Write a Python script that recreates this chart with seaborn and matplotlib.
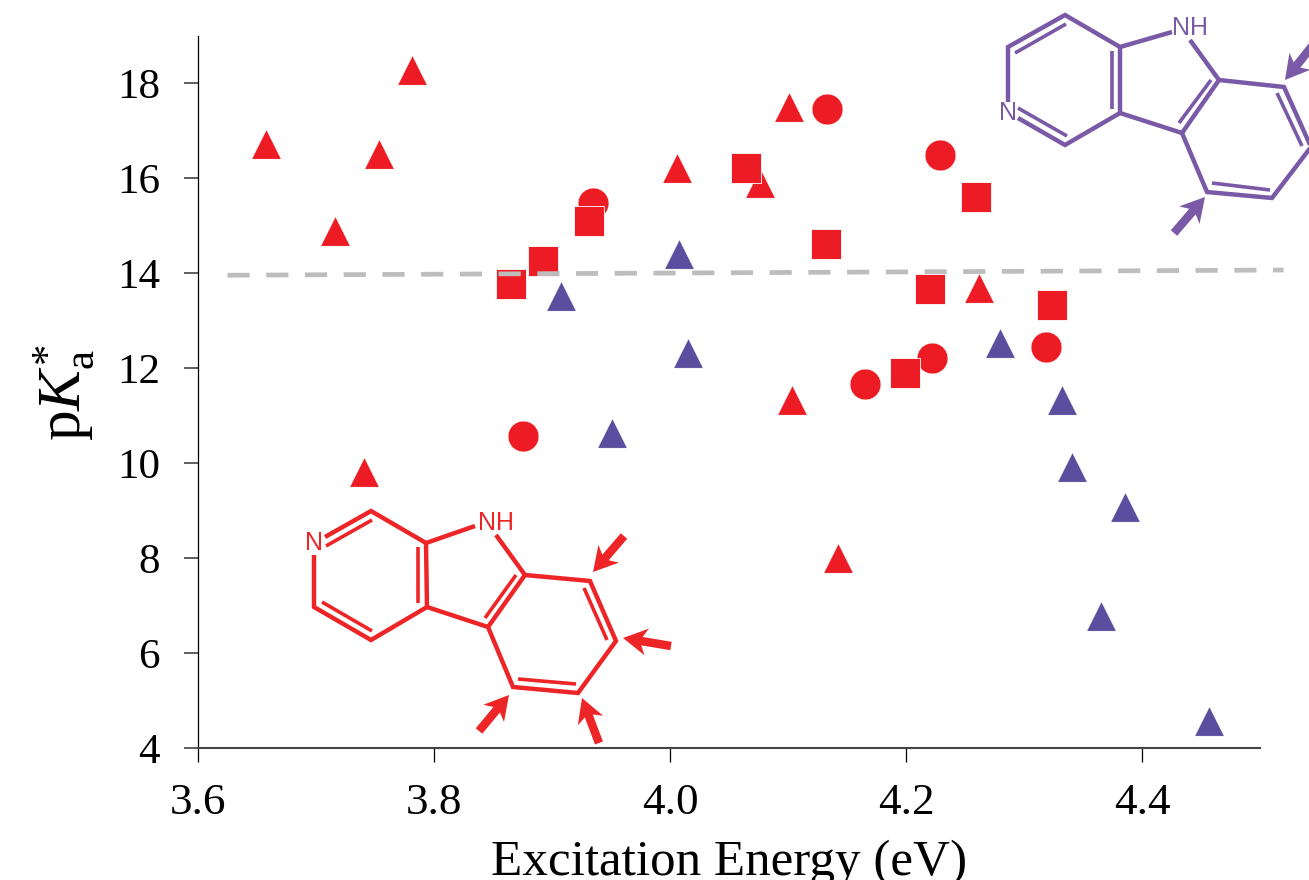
import pandas as pd
import matplotlib
matplotlib.use("Agg")
import matplotlib.pyplot as plt
import matplotlib.patches as patches
import seaborn as sns

red_tri_x = [3.658, 3.781, 3.753, 3.716, 3.741, 4.006, 4.101, 4.076, 4.262, 4.103, 4.142]
red_tri_y = [16.73, 18.29, 16.52, 14.90, 9.82, 16.21, 17.51, 15.91, 13.70, 11.34, 8.00]
blue_tri_x = [3.908, 4.008, 4.015, 3.951, 4.280, 4.332, 4.341, 4.386, 4.365, 4.457]
blue_tri_y = [13.53, 14.41, 12.33, 10.64, 12.54, 11.34, 9.92, 9.08, 6.78, 4.57]
circle_x = [3.935, 4.133, 4.229, 3.875, 4.165, 4.222, 4.319]
circle_y = [15.49, 17.47, 16.50, 10.58, 11.67, 12.22, 12.45]
square_x = [3.865, 3.892, 3.931, 4.064, 4.132, 4.259, 4.220, 4.199, 4.324]
square_y = [13.78, 14.25, 15.11, 16.21, 14.61, 15.60, 13.66, 11.89, 13.34]
water_x = [3.625, 4.52]
water_y = [13.96, 14.07]
x_ticks = [3.6, 3.8, 4.0, 4.2, 4.4]
y_ticks = [4, 6, 8, 10, 12, 14, 16, 18]

RED = "#ed1c24"
BLUE = "#5b4e9e"
PURPLE = "#7a5aa6"

sns.set_style("white")
plt.rcParams["font.family"] = ["Liberation Serif", "DejaVu Serif"]
plt.rcParams["mathtext.fontset"] = "custom"
plt.rcParams["mathtext.rm"] = "Liberation Serif"
plt.rcParams["mathtext.it"] = "Liberation Serif:italic"


def draw_group(ax, xs, ys, marker, color, size, z, edge):
    df = pd.DataFrame({"x": xs, "y": ys})
    sns.scatterplot(data=df, x="x", y="y", marker=marker, color=color, s=size,
                    edgecolor="white", linewidth=edge, zorder=z, ax=ax, clip_on=False)


fig = plt.figure(figsize=(13.09, 8.8), dpi=100)
ax = fig.add_axes([198 / 1309, 1 - 748 / 880, 1062 / 1309, 712 / 880])

draw_group(ax, red_tri_x, red_tri_y, "^", RED, 440, 3, 0.2)
draw_group(ax, blue_tri_x, blue_tri_y, "^", BLUE, 440, 3, 0.2)
draw_group(ax, circle_x, circle_y, "o", RED, 490, 3, 0.3)
draw_group(ax, square_x, square_y, "s", RED, 470, 4, 0.6)
ax.plot(water_x, water_y, color="#bdbdbd", lw=3.4, dashes=(4.7, 3.5), clip_on=False, zorder=5)

ax.set_xlim(3.6, 4.5)
ax.set_ylim(4, 19)
ax.set_xticks(x_ticks)
ax.set_xticklabels(["%.1f" % t for t in x_ticks])
ax.set_yticks(y_ticks)
ax.tick_params(axis="x", bottom=True, length=10, width=0.9, color="black", labelsize=32.5, pad=15.5, labelcolor="black")
ax.tick_params(axis="y", left=True, length=10, width=1.1, color="#333333", labelsize=31, pad=17.5, labelcolor="black")
ax.set_xlabel("Excitation Energy (eV)", fontsize=36.8, color="black", va="baseline")
ax.xaxis.set_label_coords(729 / 1309, 5 / 880, transform=fig.transFigure)
ax.set_ylabel(r"p$\mathit{K}_{\mathrm{a}}^{*}$", fontsize=44, color="black")
ax.yaxis.set_label_coords(96 / 1309, 1 - 393 / 880, transform=fig.transFigure)
sns.despine(ax=ax)
ax.spines["left"].set_linewidth(0.9)
ax.spines["left"].set_color("black")
ax.spines["bottom"].set_linewidth(1.5)
ax.spines["bottom"].set_color("#444444")

# molecules, drawn on a pixel overlay
ov = fig.add_axes([0, 0, 1, 1], zorder=2)
ov.set_xlim(0, 1309)
ov.set_ylim(880, 0)
ov.axis("off")
ov.patch.set_alpha(0)

red_outer = [[(325, 537), (371, 511), (426, 543), (427, 607), (371, 640), (314, 607), (314, 555)],
             [(426, 543), (475, 526)],
             [(496, 535), (525, 575), (590, 581), (616, 641), (578, 693), (513, 687), (488, 627), (427, 607)],
             [(525, 575), (488, 627)]]
red_inner = [[(326, 546), (372, 520)], [(418, 547), (418, 603)], [(322, 602), (372, 631)],
             [(516, 575), (485, 618)], [(584, 588), (607, 640)], [(576, 684), (518, 679)]]
red_arrows = [[(624, 536), (593, 572)], [(671, 646), (623, 638)],
              [(599, 743), (582, 698)], [(479, 731), (509, 695)]]

purple_outer = [[(1008, 102), (1008, 47), (1065, 15), (1120, 47), (1120, 113), (1065, 145), (1018, 118)],
                [(1120, 47), (1172, 32)],
                [(1190, 40), (1219, 80), (1284, 87), (1311, 147), (1272, 198), (1207, 192), (1182, 133), (1120, 113)],
                [(1219, 80), (1182, 133)]]
purple_inner = [[(1015, 53), (1066, 24)], [(1112, 51), (1112, 109)], [(1018, 108), (1067, 136)],
                [(1211, 80), (1179, 123)], [(1277, 93), (1302, 146)], [(1270, 190), (1212, 183)]]
purple_arrows = [[(1313, 45), (1285, 80)], [(1174, 233), (1205, 197)]]


def draw_molecule(outer, inner, arrows, color, labels):
    for seg in outer:
        ov.plot(*zip(*seg), color=color, lw=3.2, solid_joinstyle="miter", solid_capstyle="butt")
    for seg in inner:
        ov.plot(*zip(*seg), color=color, lw=2.6, solid_capstyle="butt")
    for (x0, y0), (x1, y1) in arrows:
        ov.add_patch(patches.FancyArrow(x0, y0, x1 - x0, y1 - y0, width=8.5, head_width=27,
                                        head_length=24, overhang=0.2, length_includes_head=True,
                                        color=color, lw=0))
    for tx, ty, s in labels:
        ov.text(tx, ty, s, color=color, fontsize=18, family=["Liberation Sans"], ha="center", va="center")


draw_molecule(red_outer, red_inner, red_arrows, "#ee2527", [(314, 543, "N"), (496, 523, "NH")])
draw_molecule(purple_outer, purple_inner, purple_arrows, PURPLE, [(1008, 113, "N"), (1190, 28, "NH")])

fig.savefig("out.png", dpi=100)
